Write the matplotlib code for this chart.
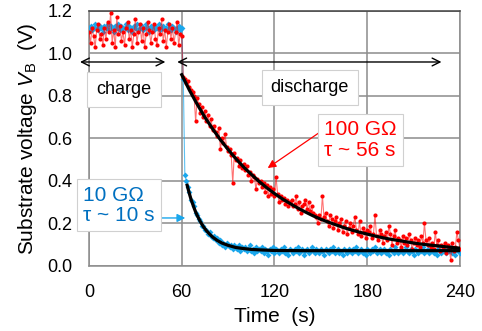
import numpy as np
import matplotlib.pyplot as plt

plt.rcParams['font.family'] = 'Liberation Sans'
plt.rcParams['mathtext.fontset'] = 'custom'
plt.rcParams['mathtext.rm'] = 'Liberation Sans'
plt.rcParams['mathtext.it'] = 'Liberation Sans:italic'

# measured substrate voltage, one sample per second, t = 0 ... 240 s
red_v = [
    # charge (0-60 s)
    1.10, 1.05, 1.12, 1.08, 1.03, 1.11, 1.14, 1.07, 1.09, 1.04,
    1.12, 1.07, 1.15, 1.10, 1.19, 1.05, 1.11, 1.03, 1.17, 1.09,
    1.13, 1.06, 1.10, 1.04, 1.12, 1.15, 1.07, 1.11, 1.03, 1.09,
    1.16, 1.05, 1.10, 1.14, 1.06, 1.12, 1.03, 1.09, 1.15, 1.11,
    1.05, 1.10, 1.14, 1.07, 1.04, 1.12, 1.09, 1.16, 1.06, 1.11,
    1.03, 1.10, 1.14, 1.07, 1.12, 1.05, 1.10, 1.15, 1.04, 1.09,
    1.08,
    # discharge (61-240 s)
    0.89, 0.88, 0.86, 0.87, 0.84, 0.83, 0.82, 0.80, 0.68, 0.79,
    0.76, 0.72, 0.75, 0.70, 0.73, 0.68, 0.71, 0.66, 0.69, 0.64,
    0.66, 0.63, 0.61, 0.65, 0.55, 0.60, 0.58, 0.62, 0.56, 0.54,
    0.55, 0.52, 0.39, 0.53, 0.50, 0.51, 0.47, 0.50, 0.46, 0.48,
    0.45, 0.47, 0.43, 0.44, 0.40, 0.43, 0.42, 0.36, 0.41, 0.39,
    0.40, 0.37, 0.39, 0.35, 0.38, 0.33, 0.37, 0.34, 0.36, 0.33,
    0.42, 0.34, 0.30, 0.33, 0.31, 0.32, 0.29, 0.31, 0.28, 0.30,
    0.31, 0.28, 0.29, 0.33, 0.27, 0.30, 0.25, 0.28, 0.29, 0.31,
    0.27, 0.30, 0.26, 0.28, 0.25, 0.24, 0.23, 0.20, 0.24, 0.22,
    0.33, 0.23, 0.25, 0.21, 0.19, 0.24, 0.22, 0.18, 0.21, 0.23,
    0.17, 0.20, 0.22, 0.16, 0.19, 0.21, 0.15, 0.18, 0.20, 0.16,
    0.19, 0.23, 0.17, 0.15, 0.21, 0.14, 0.18, 0.16, 0.13, 0.17,
    0.16, 0.19, 0.13, 0.15, 0.24, 0.14, 0.12, 0.17, 0.15, 0.11,
    0.14, 0.16, 0.12, 0.19, 0.15, 0.10, 0.14, 0.17, 0.11, 0.13,
    0.12, 0.09, 0.14, 0.11, 0.13, 0.10, 0.15, 0.12, 0.08, 0.11,
    0.13, 0.10, 0.12, 0.09, 0.14, 0.11, 0.20, 0.12, 0.10, 0.13,
    0.09, 0.11, 0.08, 0.16, 0.10, 0.12, 0.07, 0.10, 0.09, 0.11,
    0.06, 0.10, 0.08, 0.03, 0.11, 0.07, 0.09, 0.16, 0.12, 0.08,
]

blue_v = [
    1.12, 1.13, 1.11, 1.12, 1.14, 1.12, 1.11, 1.13, 1.12, 1.10,
    1.13, 1.12, 1.14, 1.11, 1.13, 1.12, 1.10, 1.13, 1.12, 1.14,
    1.11, 1.13, 1.12, 1.12, 1.14, 1.11, 1.13, 1.12, 1.10, 1.13,
    1.12, 1.14, 1.11, 1.12, 1.13, 1.11, 1.12, 1.14, 1.12, 1.10,
    1.13, 1.12, 1.11, 1.13, 1.12, 1.14, 1.11, 1.12, 1.13, 1.11,
    1.12, 1.14, 1.12, 1.11, 1.13, 1.12, 1.10, 1.12, 1.13, 1.11,
    1.12,
    0.88, 0.43, 0.40, 0.37, 0.35, 0.31, 0.30, 0.28, 0.25, 0.24,
    0.22, 0.21, 0.19, 0.19, 0.17, 0.17, 0.15, 0.16, 0.14, 0.13,
    0.14, 0.12, 0.13, 0.11, 0.12, 0.10, 0.11, 0.09, 0.11, 0.10,
    0.09, 0.10, 0.08, 0.10, 0.09, 0.08, 0.10, 0.07, 0.09, 0.08,
    0.09, 0.07, 0.08, 0.10, 0.07, 0.08, 0.06, 0.09, 0.07, 0.08,
    0.07, 0.09, 0.06, 0.08, 0.07, 0.05, 0.08, 0.07, 0.09, 0.06,
    0.08, 0.07, 0.06, 0.08, 0.07, 0.09, 0.06, 0.07, 0.05, 0.08,
    0.07, 0.06, 0.08, 0.07, 0.09, 0.06, 0.07, 0.08, 0.05, 0.07,
    0.08, 0.06, 0.07, 0.09, 0.07, 0.06, 0.08, 0.07, 0.06, 0.08,
    0.07, 0.05, 0.08, 0.07, 0.06, 0.08, 0.07, 0.09, 0.06, 0.07,
    0.08, 0.06, 0.07, 0.05, 0.08, 0.07, 0.06, 0.08, 0.07, 0.06,
    0.08, 0.07, 0.09, 0.06, 0.07, 0.08, 0.06, 0.07, 0.05, 0.08,
    0.07, 0.06, 0.08, 0.07, 0.09, 0.06, 0.07, 0.08, 0.06, 0.07,
    0.08, 0.06, 0.07, 0.05, 0.08, 0.07, 0.06, 0.09, 0.07, 0.06,
    0.07, 0.08, 0.06, 0.07, 0.09, 0.07, 0.06, 0.08, 0.07, 0.05,
    0.08, 0.07, 0.06, 0.08, 0.07, 0.09, 0.06, 0.07, 0.08, 0.06,
    0.07, 0.08, 0.06, 0.07, 0.05, 0.08, 0.07, 0.06, 0.08, 0.07,
    0.06, 0.08, 0.07, 0.09, 0.06, 0.07, 0.05, 0.08, 0.07, 0.06,
]
t = np.arange(len(red_v))

# exponential fits
red_fit_t = [60, 65, 70, 75, 80, 85, 90, 95, 100, 105, 110, 115, 120, 125,
             130, 135, 140, 145, 150, 155, 160, 165, 170, 175, 180, 185, 190,
             195, 200, 205, 210, 215, 220, 225, 230, 235, 240]
red_fit_v = [0.900, 0.827, 0.761, 0.700, 0.645, 0.594, 0.548, 0.505, 0.466,
             0.431, 0.398, 0.368, 0.341, 0.316, 0.294, 0.273, 0.254, 0.236,
             0.220, 0.206, 0.193, 0.180, 0.169, 0.159, 0.150, 0.141, 0.133,
             0.126, 0.120, 0.114, 0.108, 0.103, 0.099, 0.095, 0.091, 0.087,
             0.084]
blue_fit_t = [63.5, 64, 65, 66, 67, 68, 69, 70, 72, 74, 76, 78, 80, 83, 86,
              90, 95, 100, 105, 110, 120, 140, 240]
blue_fit_v = [0.380, 0.366, 0.339, 0.314, 0.293, 0.273, 0.254, 0.238, 0.209,
              0.185, 0.166, 0.150, 0.136, 0.120, 0.108, 0.097, 0.087, 0.082,
              0.078, 0.076, 0.073, 0.072, 0.072]

red = '#FF0000'
blue = '#1AA7EC'
blue_txt = '#0070C0'
grid_c = '#8C8C8C'

fig = plt.figure(figsize=(4.82, 3.31), dpi=100)
ax = fig.add_axes([0.1846, 0.1964, 0.7698, 0.7704])

ax.plot(t, blue_v, color=blue, lw=0.8, alpha=0.7, zorder=3)
ax.plot(t, blue_v, ls='none', marker='D', ms=3.0, color=blue, mew=0, zorder=3)
ax.plot(t, red_v, color=red, lw=0.8, alpha=0.55, zorder=4)
ax.plot(t, red_v, ls='none', marker='o', ms=3.0, color=red, mew=0, zorder=4)
ax.plot(red_fit_t, red_fit_v, color='k', lw=2.3, zorder=5)
ax.plot(blue_fit_t, blue_fit_v, color='k', lw=2.3, zorder=5)

ax.set_xlim(0, 240)
ax.set_ylim(0, 1.2)
ax.set_xticks([0, 60, 120, 180, 240])
ax.set_yticks(np.arange(0, 1.21, 0.2))
ax.yaxis.set_major_formatter(plt.FormatStrFormatter('%.1f'))
ax.tick_params(length=0, labelsize=13)
ax.tick_params(axis='x', pad=13)
ax.tick_params(axis='y', pad=12)
ax.grid(True, color=grid_c, lw=1.1)
ax.set_axisbelow(True)
for s in ax.spines.values():
    s.set_color(grid_c)
    s.set_linewidth(1.1)
ax.spines['top'].set_color('#404040')

ax.set_xlabel('Time  (s)', fontsize=15, labelpad=4)
ax.set_ylabel(r'Substrate voltage $V_\mathrm{B}$  (V)', fontsize=15, labelpad=6)

# phase arrows
ax.annotate('', xy=(-5.8, 0.96), xytext=(49.4, 0.96), annotation_clip=False,
            arrowprops=dict(arrowstyle='<->', color='k', lw=1.0,
                            mutation_scale=14, shrinkA=0, shrinkB=0), zorder=6)
ax.annotate('', xy=(57.1, 0.96), xytext=(228, 0.96), annotation_clip=False,
            arrowprops=dict(arrowstyle='<->', color='k', lw=1.0,
                            mutation_scale=14, shrinkA=0, shrinkB=0), zorder=6)

box = dict(facecolor='white', edgecolor='#D0D0D0', lw=0.8, boxstyle='square,pad=0.3')
ax.text(22.7, 0.83, 'charge', fontsize=13, ha='center', va='center',
        bbox=dict(box, boxstyle='square,pad=0.5'), zorder=7, clip_on=False)
ax.text(142.9, 0.838, 'discharge', fontsize=13, ha='center', va='center',
        bbox=dict(box, boxstyle='square,pad=0.5'), zorder=7)

ax.text(152.0, 0.593, '100 G\u03a9\n\u03c4 ~ 56 s', fontsize=15, color=red,
        ha='left', va='center', linespacing=1.1, bbox=box, zorder=7)
ax.text(-3.6, 0.285, '10 G\u03a9\n\u03c4 ~ 10 s', fontsize=15, color=blue_txt,
        ha='left', va='center', linespacing=1.1, bbox=box, zorder=7, clip_on=False)

ax.annotate('', xy=(115.6, 0.461), xytext=(148.6, 0.626),
            arrowprops=dict(arrowstyle='-|>', color=red, lw=0.9,
                            mutation_scale=12, shrinkA=0, shrinkB=0), zorder=6)
ax.annotate('', xy=(62.3, 0.226), xytext=(40.9, 0.226),
            arrowprops=dict(arrowstyle='-|>', color=blue, lw=1.0,
                            mutation_scale=12, shrinkA=0, shrinkB=0), zorder=6)

fig.savefig('out.png', dpi=100)
